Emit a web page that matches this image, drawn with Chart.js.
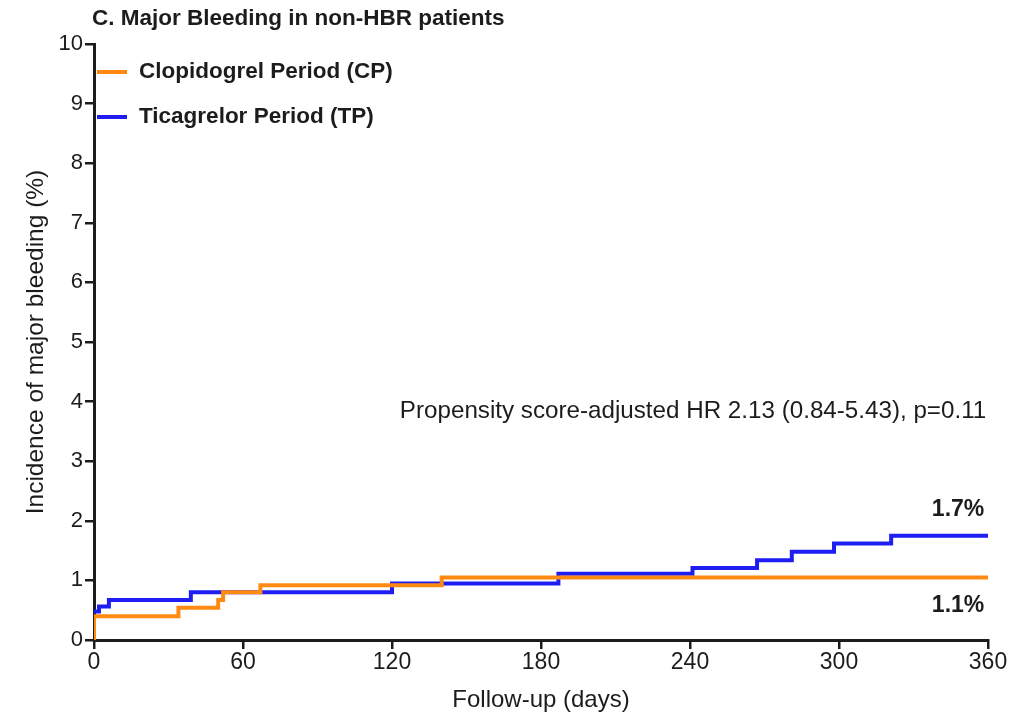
<!DOCTYPE html>
<html>
<head>
<meta charset="utf-8">
<script src="https://cdn.jsdelivr.net/npm/chart.js@4.4.1/dist/chart.umd.min.js"></script>
<style>
  html, body { margin: 0; padding: 0; background: #fff; }
  #wrap { width: 1027px; height: 715px; }
</style>
</head>
<body>
<div id="wrap"><canvas id="kmChart" width="1027" height="715"></canvas></div>
<script>
// Kaplan-Meier style cumulative incidence, read as (day, %) step points
const cpDays = [0, 0, 34, 50, 52, 67, 140, 360];
const cpIncidence = [0, 0.40, 0.54, 0.67, 0.80, 0.92, 1.05, 1.05];
const tpDays = [0, 2, 6, 39, 120, 187, 241, 267, 281, 298, 321, 360];
const tpIncidence = [0.48, 0.56, 0.67, 0.80, 0.95, 1.11, 1.21, 1.34, 1.48, 1.62, 1.75, 1.75];
const seriesNames = ['Clopidogrel Period (CP)', 'Ticagrelor Period (TP)'];
const endLabels = ['1.1%', '1.7%'];
const xTicks = [0, 60, 120, 180, 240, 300, 360];

const ORANGE = '#FF8A12';
const BLUE = '#1E1EF2';
const INK = '#1c1c1c';
const FONT = '"Liberation Sans", Arial, Helvetica, sans-serif';

const toPoints = (xs, ys) => xs.map((x, i) => ({ x: x, y: ys[i] }));

// title, legend, HR note and the end-of-follow-up labels
const overlayText = {
    id: 'overlayText',
    afterDraw(chart) {
        const ctx = chart.ctx;
        const x = chart.scales.x;
        const y = chart.scales.y;
        ctx.save();
        ctx.fillStyle = INK;
        ctx.textBaseline = 'middle';

        ctx.font = 'bold 22.5px ' + FONT;
        ctx.textAlign = 'left';
        ctx.fillText('C. Major Bleeding in non-HBR patients', 92, 19);

        const legendRows = [72, 117];
        chart.data.datasets.forEach((ds, i) => {
            ctx.strokeStyle = ds.borderColor;
            ctx.lineWidth = 4;
            ctx.beginPath();
            ctx.moveTo(97, legendRows[i]);
            ctx.lineTo(127, legendRows[i]);
            ctx.stroke();
            ctx.fillText(ds.label, 139, legendRows[i]);
        });

        ctx.font = '24.2px ' + FONT;
        ctx.textAlign = 'right';
        ctx.fillText('Propensity score-adjusted HR 2.13 (0.84-5.43), p=0.11', x.getPixelForValue(359.3), y.getPixelForValue(3.83));

        ctx.font = 'bold 23px ' + FONT;
        ctx.fillText(endLabels[1], x.getPixelForValue(358.5), y.getPixelForValue(2.18));
        ctx.fillText(endLabels[0], x.getPixelForValue(358.5), y.getPixelForValue(0.57));
        ctx.restore();
    }
};

new Chart(document.getElementById('kmChart'), {
    type: 'line',
    data: {
        datasets: [{
            label: seriesNames[0],
            data: toPoints(cpDays, cpIncidence),
            borderColor: ORANGE,
            borderWidth: 4,
            stepped: true,
            pointRadius: 0,
            fill: false
        }, {
            label: seriesNames[1],
            data: toPoints(tpDays, tpIncidence),
            borderColor: BLUE,
            borderWidth: 4,
            stepped: true,
            pointRadius: 0,
            fill: false
        }]
    },
    options: {
        responsive: false,
        animation: false,
        layout: { padding: { top: 44, right: 39, left: 0, bottom: 0 } },
        plugins: {
            legend: { display: false },
            tooltip: { enabled: false }
        },
        scales: {
            x: {
                type: 'linear',
                min: 0,
                max: 360,
                afterFit: s => { s.height = 75; },
                afterBuildTicks: s => { s.ticks = xTicks.map(v => ({ value: v })); },
                grid: { drawOnChartArea: false, drawTicks: true, tickLength: 9, color: INK, lineWidth: 2.5 },
                border: { display: true, color: INK, width: 3 },
                ticks: { color: INK, padding: 0, maxRotation: 0, font: { family: FONT, size: 23 } },
                title: {
                    display: true,
                    text: 'Follow-up (days)',
                    color: INK,
                    font: { family: FONT, size: 24 },
                    padding: { top: 0, bottom: 0 }
                }
            },
            y: {
                min: 0,
                max: 10,
                afterFit: s => { s.width = 94; },
                grid: { drawOnChartArea: false, drawTicks: true, tickLength: 9, color: INK, lineWidth: 2.5 },
                border: { display: true, color: INK, width: 3 },
                ticks: { stepSize: 1, color: INK, padding: 2, font: { family: FONT, size: 22 } },
                title: {
                    display: true,
                    text: 'Incidence of major bleeding (%)',
                    color: INK,
                    font: { family: FONT, size: 24.5 },
                    padding: { top: 22, bottom: 0 }
                }
            }
        }
    },
    plugins: [overlayText]
});
</script>
</body>
</html>
